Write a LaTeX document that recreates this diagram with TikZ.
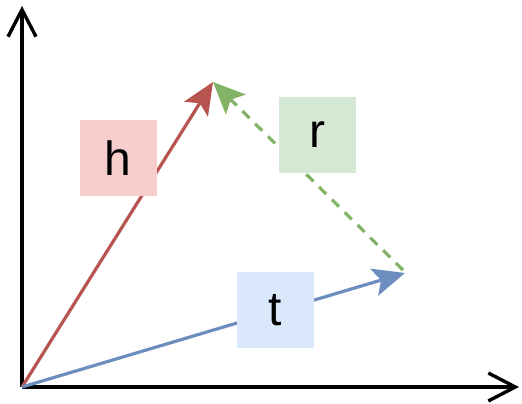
\documentclass[tikz,border=0pt]{standalone}
\usepackage{fontspec}
\setmainfont{Liberation Sans}
\usetikzlibrary{arrows.meta}
\definecolor{hred}{HTML}{B85450}
\definecolor{hfill}{HTML}{F8CECC}
\definecolor{rgreen}{HTML}{82B366}
\definecolor{rfill}{HTML}{D5E8D4}
\definecolor{tblue}{HTML}{6C8EBF}
\definecolor{tfill}{HTML}{DAE8FC}
\tikzset{
  axis/.style={line width=3.4pt, black, -{Straight Barb[length=27pt,width=28pt,line width=3.4pt]}},
  vec/.style={line width=3.2pt, -{Stealth[length=32pt,width=28pt,inset=7pt]}},
  lbl/.style={minimum width=77pt, minimum height=76pt, inner sep=0pt,
    font=\fontsize{48}{48}\selectfont},
}
\begin{document}
\begin{tikzpicture}[x=1pt,y=-1pt]
\useasboundingbox (0,0) rectangle (522,404);
\coordinate (O) at (22,387);
\coordinate (Ytop) at (22,6);
\coordinate (Xend) at (519,387);
\coordinate (Htip) at (213,82);
\coordinate (Ttip) at (405,273);
\coordinate (Rstart) at (403,270);
\draw[axis] (O) -- (Ytop);
\draw[axis] (O) -- (Xend);
\draw[vec, hred] (O) -- (Htip);
\draw[vec, tblue] (O) -- (Ttip);
\draw[vec, rgreen, dash pattern=on 10pt off 8pt] (Rstart) -- (Htip);
\node[lbl, fill=hfill] (h) at (118,158) {h};
\node[lbl, fill=rfill] (r) at (317,135) {r};
\node[lbl, fill=tfill] (t) at (275,310) {t};
\end{tikzpicture}
\end{document}
